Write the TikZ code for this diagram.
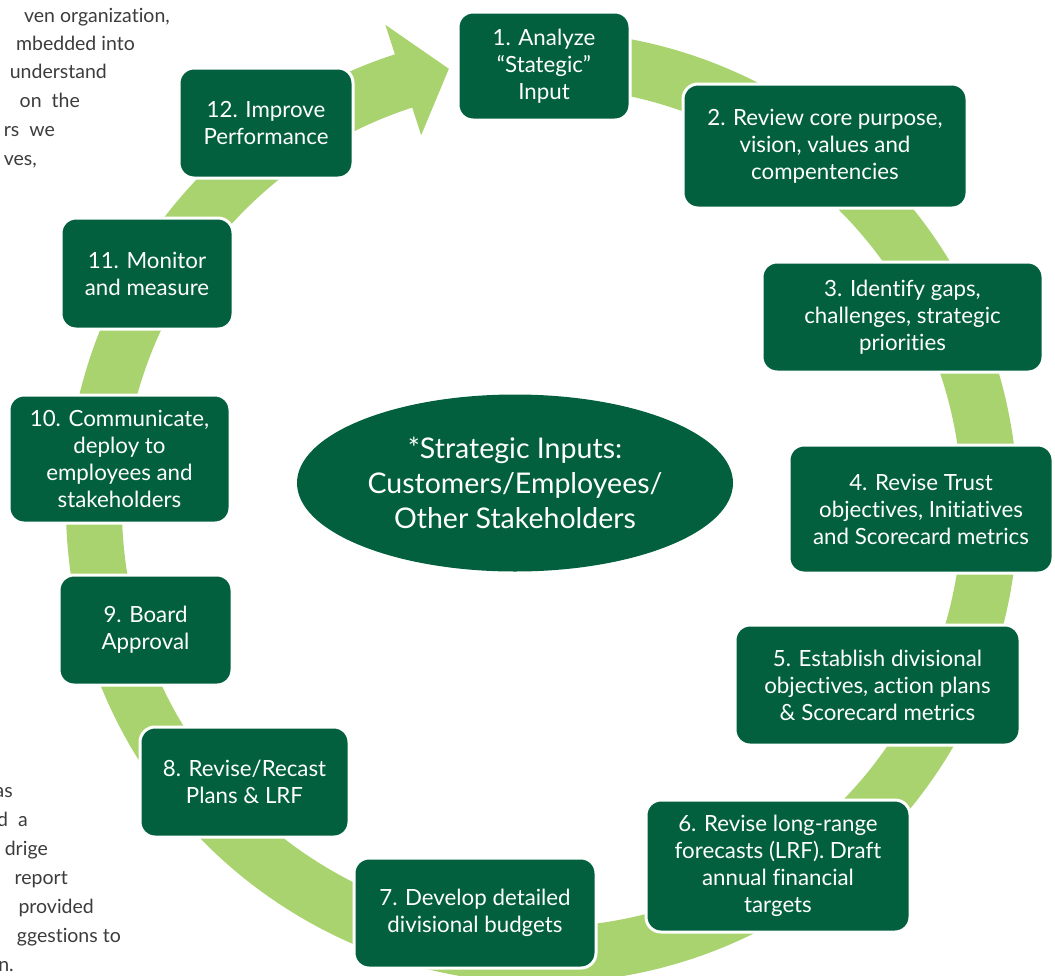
\documentclass[tikz,border=0pt]{standalone}
\usepackage{fontspec}
\setmainfont{Lato}[Ligatures=NoCommon]
\usetikzlibrary{shapes.geometric}
\definecolor{dgreen}{HTML}{02603F}
\definecolor{lgreen}{HTML}{A9D36E}
\definecolor{txtgray}{HTML}{3C3C3C}
\begin{document}
\begin{tikzpicture}[x=1pt,y=-1pt,
  stepbox/.style={rectangle, rounded corners=15pt, fill=dgreen, draw=white, line width=3pt, text=white, align=center, font=\fontsize{22.3}{27}\selectfont, inner sep=0pt},
  hubnode/.style={ellipse, fill=dgreen, text=white, align=center, font=\fontsize{28.5}{35}\selectfont, inner sep=0pt},
  frag/.style={text=txtgray, font=\fontsize{19.5}{28}\selectfont, inner sep=0pt},
  ringband/.style={fill=lgreen}]
\useasboundingbox (0,0) rectangle (1055,975);
\clip (0,0) rectangle (1055,975);
% side text fragments
\node[frag, anchor=base east] (ta) at (170,22) {ven organization,};
\node[frag, anchor=base east] (tb) at (135,50) {mbedded into};
\node[frag, anchor=base east] (tc) at (107,78) {understand};
\node[frag, anchor=base east] (td) at (80,107) {on\ \ the};
\node[frag, anchor=base east] (te) at (55,136) {rs\ \ we};
\node[frag, anchor=base east] (tf) at (37,165) {ves,};
\node[frag, anchor=base east] (tg) at (13,797) {as};
\node[frag, anchor=base east] (th) at (28,826) {d\ \ a};
\node[frag, anchor=base east] (ti) at (48,855) {drige};
\node[frag, anchor=base east] (tj) at (68,884) {report};
\node[frag, anchor=base east] (tk) at (94,913) {provided};
\node[frag, anchor=base east] (tl) at (121,942) {ggestions to};
\node[frag, anchor=base east] (tm) at (14,971) {n.};
% ring arrow
\begin{scope}[shift={(542,507)}]
\fill[ringband] (-98:476) arc[start angle=-98, end angle=252, radius=476]
  -- (252:507) -- (258:448) -- (252:391) -- (252:420)
  arc[start angle=252, end angle=-98, radius=420] -- cycle;
\end{scope}
% steps
\node[stepbox, minimum width=172pt, minimum height=108pt] (s1) at (544,66) {1. Analyze\\“Stategic”\\Input};
\node[stepbox, minimum width=284pt, minimum height=124pt] (s2) at (825,146) {2. Review core purpose,\\vision, values and\\compentencies};
\node[stepbox, minimum width=281pt, minimum height=110pt] (s3) at (902.5,317) {3. Identify gaps,\\challenges, strategic\\priorities};
\node[stepbox, minimum width=264pt, minimum height=128pt] (s4) at (921,509) {4. Revise Trust\\objectives, Initiatives\\and Scorecard metrics};
\node[stepbox, minimum width=285pt, minimum height=120pt] (s5) at (877.5,685) {5. Establish divisional\\objectives, action plans\\\& Scorecard metrics};
\node[stepbox, minimum width=264pt, minimum height=132pt] (s6) at (778,866) {6. Revise long-range\\forecasts (LRF). Draft\\annual financial\\targets};
\node[stepbox, minimum width=242pt, minimum height=110pt] (s7) at (475,913) {7. Develop detailed\\divisional budgets};
\node[stepbox, minimum width=209pt, minimum height=110pt] (s8) at (244.5,782) {8. Revise/Recast\\Plans \& LRF};
\node[stepbox, minimum width=173pt, minimum height=110pt] (s9) at (145.5,630) {9. Board\\Approval};
\node[stepbox, minimum width=221pt, minimum height=128pt] (s10) at (119.5,459) {10. Communicate,\\deploy to\\employees and\\stakeholders};
\node[stepbox, minimum width=172pt, minimum height=111pt] (s11) at (147,273.5) {11. Monitor\\and measure};
\node[stepbox, minimum width=174pt, minimum height=110pt] (s12) at (266,123) {12. Improve\\Performance};
% hub
\node[hubnode, minimum width=436pt, minimum height=177pt] (hub) at (515,483) {*Strategic Inputs:\\Customers/Employees/\\Other Stakeholders};
\end{tikzpicture}
\end{document}
